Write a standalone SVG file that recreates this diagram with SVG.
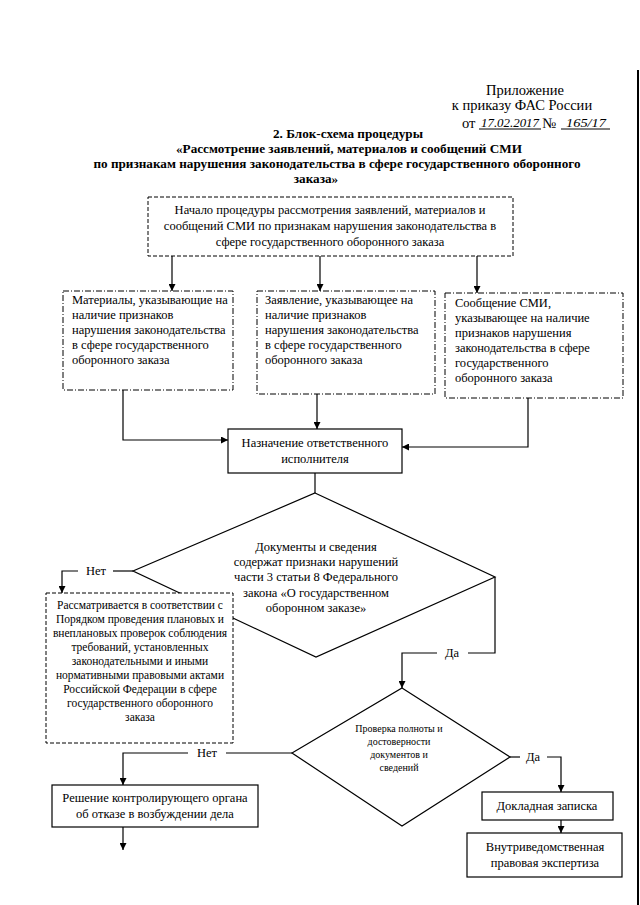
<svg xmlns="http://www.w3.org/2000/svg" width="640" height="905" viewBox="0 0 640 905">
<defs>
<marker id="ah" viewBox="0 0 10 10" refX="10" refY="5" markerWidth="7" markerHeight="7" orient="auto" markerUnits="userSpaceOnUse">
<path d="M0,0 L10,5 L0,10 z" fill="#000"/>
</marker>
<style>
text{font-family:"Liberation Serif","Times New Roman",serif;fill:#000}
.t{font-size:12.5px}
.c{text-anchor:middle}
.s{font-size:11.5px}
.xs{font-size:10px}
.h{font-size:14.5px}
.b{font-weight:bold;font-size:13.2px;text-anchor:middle}
.hw{font-style:italic;font-size:12.5px}
.box{fill:#fff;stroke:#000;stroke-width:1.2}
.dash{fill:#fff;stroke:#000;stroke-width:1;stroke-dasharray:4,2}
.dd{fill:#fff;stroke:#000;stroke-width:1;stroke-dasharray:6,2,1,2}
.ln{fill:none;stroke:#000;stroke-width:1.2}
.ar{fill:none;stroke:#000;stroke-width:1.2;marker-end:url(#ah)}
</style>
</defs>
<rect width="640" height="905" fill="#fff"/>
<line x1="638" y1="70" x2="638" y2="905" stroke="#000" stroke-width="2"/>

<g id="header">
<text class="h c" x="525" y="95">Приложение</text>
<text class="h c" x="522" y="110">к приказу ФАС России</text>
<text class="h" x="462" y="128">от</text>
<text class="hw" x="481" y="127" textLength="58" lengthAdjust="spacingAndGlyphs">17.02.2017</text>
<line x1="479" y1="129" x2="541" y2="129" stroke="#000" stroke-width="1"/>
<text class="h" x="542" y="128">№</text>
<text class="hw" x="566" y="127" textLength="40" lengthAdjust="spacingAndGlyphs">165/17</text>
<line x1="561" y1="129" x2="610" y2="129" stroke="#000" stroke-width="1"/>
</g>

<g id="title">
<text class="b" x="348" y="138">2. Блок-схема процедуры</text>
<text class="b" x="349" y="153">«Рассмотрение заявлений, материалов и сообщений СМИ</text>
<text class="b" x="337" y="168">по признакам нарушения законодательства в сфере государственного оборонного</text>
<text class="b" x="316" y="183">заказа»</text>
</g>

<g id="connectors">
<line class="ar" x1="172" y1="256" x2="172" y2="291"/>
<line class="ar" x1="320" y1="256" x2="320" y2="291"/>
<line class="ar" x1="477" y1="256" x2="477" y2="293"/>
<polyline class="ar" points="123,390 123,440 228,440"/>
<line class="ar" x1="317" y1="394" x2="317" y2="429"/>
<polyline class="ar" points="528,398 528,447 402,447"/>
<line class="ln" x1="315" y1="473" x2="315" y2="493"/>
<polyline class="ln" points="133,571 113,571"/>
<polyline class="ar" points="78,571 62,571 62,593"/>
<polyline class="ln" points="495,577 495,653 468,653"/>
<polyline class="ar" points="437,653 402,653 402,688"/>
<line class="ln" x1="292" y1="753" x2="226" y2="753"/>
<polyline class="ar" points="188,753 123,753 123,785"/>
<line class="ar" x1="123" y1="827" x2="123" y2="850"/>
<line class="ln" x1="510" y1="757" x2="520" y2="757"/>
<polyline class="ar" points="547,757 561,757 561,792"/>
<line class="ar" x1="561" y1="820" x2="561" y2="833"/>
</g>

<g id="labels">
<text class="t c" x="96" y="575">Нет</text>
<text class="t c" x="452" y="657">Да</text>
<text class="t c" x="207" y="757">Нет</text>
<text class="t c" x="533" y="761">Да</text>
</g>

<g id="start">
<rect class="dash" x="148" y="197" width="365" height="59"/>
<text class="t c" x="330" y="214">Начало процедуры рассмотрения заявлений, материалов и</text>
<text class="t c" x="330" y="230">сообщений СМИ по признакам нарушения законодательства в</text>
<text class="t c" x="330" y="246">сфере государственного оборонного заказа</text>
</g>

<g id="materials">
<rect class="dd" x="63" y="291" width="170" height="99"/>
<text class="t" x="72" y="304">Материалы, указывающие на</text>
<text class="t" x="72" y="319">наличие признаков</text>
<text class="t" x="72" y="334">нарушения законодательства</text>
<text class="t" x="72" y="349">в сфере государственного</text>
<text class="t" x="72" y="364">оборонного заказа</text>
</g>

<g id="statement">
<rect class="dd" x="257" y="291" width="178" height="103"/>
<text class="t" x="265" y="304">Заявление, указывающее на</text>
<text class="t" x="265" y="319">наличие признаков</text>
<text class="t" x="265" y="334">нарушения законодательства</text>
<text class="t" x="265" y="349">в сфере государственного</text>
<text class="t" x="265" y="364">оборонного заказа</text>
</g>

<g id="media">
<rect class="dd" x="445" y="293" width="178" height="105"/>
<text class="t" x="455" y="307">Сообщение СМИ,</text>
<text class="t" x="455" y="322">указывающее на наличие</text>
<text class="t" x="455" y="337">признаков нарушения</text>
<text class="t" x="455" y="352">законодательства в сфере</text>
<text class="t" x="455" y="367">государственного</text>
<text class="t" x="455" y="382">оборонного заказа</text>
</g>

<g id="assign">
<rect class="box" x="228" y="429" width="174" height="44"/>
<text class="t c" x="315" y="447">Назначение ответственного</text>
<text class="t c" x="315" y="463">исполнителя</text>
</g>

<g id="decision1">
<polygon class="box" points="315,493 495,577 316,657 133,571"/>
<text class="t c" x="316" y="551">Документы и сведения</text>
<text class="t c" x="316" y="566">содержат признаки нарушений</text>
<text class="t c" x="316" y="581">части 3 статьи 8 Федерального</text>
<text class="t c" x="316" y="597">закона «О государственном</text>
<text class="t c" x="316" y="612">оборонном заказе»</text>
</g>

<g id="procedure">
<rect class="dash" x="46" y="593" width="187" height="150"/>
<text class="s c" x="140" y="609">Рассматривается в соответствии с</text>
<text class="s c" x="140" y="623">Порядком проведения плановых и</text>
<text class="s c" x="140" y="637">внеплановых проверок соблюдения</text>
<text class="s c" x="140" y="651">требований, установленных</text>
<text class="s c" x="140" y="665">законодательными и иными</text>
<text class="s c" x="140" y="679">нормативными правовыми актами</text>
<text class="s c" x="140" y="693">Российской Федерации в сфере</text>
<text class="s c" x="140" y="707">государственного оборонного</text>
<text class="s c" x="140" y="721">заказа</text>
</g>

<g id="decision2">
<polygon class="box" points="402,688 510,757 402,826 292,753"/>
<text class="xs c" x="399" y="732">Проверка полноты и</text>
<text class="xs c" x="399" y="745">достоверности</text>
<text class="xs c" x="399" y="758">документов и</text>
<text class="xs c" x="399" y="771">сведений</text>
</g>

<g id="refusal">
<rect class="box" x="52" y="785" width="206" height="42"/>
<text class="t c" x="155" y="802">Решение контролирующего органа</text>
<text class="t c" x="155" y="818">об отказе в возбуждении дела</text>
</g>

<g id="memo">
<rect class="box" x="482" y="792" width="131" height="28"/>
<text class="t c" x="547" y="810">Докладная записка</text>
</g>

<g id="expertise">
<rect class="box" x="467" y="833" width="155" height="44"/>
<text class="t c" x="545" y="851">Внутриведомственная</text>
<text class="t c" x="545" y="867">правовая экспертиза</text>
</g>
</svg>
